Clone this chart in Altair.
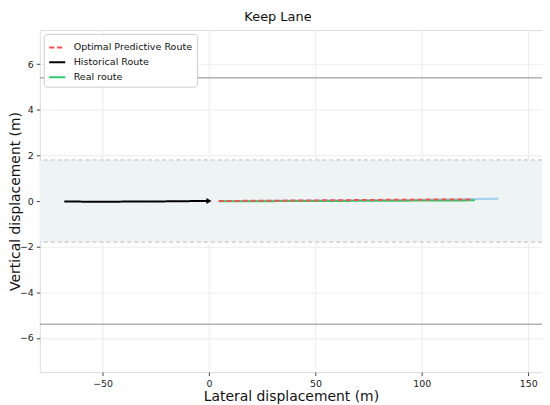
import altair as alt
import pandas as pd

# ---- data ----
hist_x = [-68, -55, -45, -35, -25, -15, -5, 0]
hist_y = [-0.02, -0.03, -0.03, -0.02, -0.02, -0.01, 0.0, 0.0]

pred_x = [4.6, 20, 40, 60, 80, 100, 115, 124]
pred_y = [0.0, 0.01, 0.02, 0.035, 0.05, 0.06, 0.07, 0.07]

real_x = [4.6, 20, 40, 60, 80, 100, 115, 125]
real_y = [-0.01, -0.01, 0.0, 0.005, 0.01, 0.02, 0.025, 0.03]

cand_x = [4.6, 30, 60, 90, 110, 125, 136]
cand_y = [0.0, 0.01, 0.03, 0.05, 0.07, 0.09, 0.1]

lane_dash = [1.8, -1.8]
lane_solid = [5.4, -5.4]

series_names = ["Optimal Predictive Route", "Historical Route", "Real route"]
series_colors = ["#ff4d4d", "#000000", "#2ecc71"]

FONT = "DejaVu Sans"
xdom = [-79.5, 156.5]
ydom = [-7.5, 7.5]
W, H = 505, 344

def frame(xs, ys, name):
    return pd.DataFrame({"x": xs, "y": ys, "series": name})

hist = frame(hist_x, hist_y, "Historical Route")
pred = frame(pred_x, pred_y, "Optimal Predictive Route")
real = frame(real_x, real_y, "Real route")
cand = frame(cand_x, cand_y, "cand")

X = alt.X("x:Q", scale=alt.Scale(domain=xdom, nice=False, zero=False),
          axis=alt.Axis(title="Lateral displacement (m)", values=[-50, 0, 50, 100, 150],
                        grid=True, gridColor="#ececec", gridOpacity=1,
                        tickColor="#444", tickSize=3.5, labelFontSize=9.5, titleFontSize=14,
                        labelFont=FONT, titleFont=FONT, titleFontWeight="normal",
                        labelPadding=3,
                        domain=False, labelColor="#222", titleColor="#111", titlePadding=2))
Y = alt.Y("y:Q", scale=alt.Scale(domain=ydom, nice=False, zero=False),
          axis=alt.Axis(title="Vertical displacement (m)", values=[-6, -4, -2, 0, 2, 4, 6],
                        grid=True, gridColor="#ececec", gridOpacity=1,
                        tickColor="#444", tickSize=3.5, labelFontSize=9.5, titleFontSize=14,
                        labelFont=FONT, titleFont=FONT, titleFontWeight="normal",
                        labelPadding=3, titleX=-17, titleY=H / 2,
                        domain=False, labelColor="#222", titleColor="#111"))

band = alt.Chart(pd.DataFrame({"y": [-1.8], "y2": [1.8]})).mark_rect(
    color="#eef3f4").encode(x=alt.value(0), x2=alt.value(W), y=Y, y2="y2:Q")

dash_lines = alt.Chart(pd.DataFrame({"y": lane_dash})).mark_rule(
    color="#bbbbbb", strokeDash=[4, 3], strokeWidth=1).encode(y=Y)
solid_lines = alt.Chart(pd.DataFrame({"y": lane_solid})).mark_rule(
    color="#888888", strokeWidth=1).encode(y=Y)

color_scale = alt.Scale(domain=series_names, range=series_colors)
dash_scale = alt.Scale(domain=series_names, range=[[5, 3], [1, 0], [1, 0]])
legend = alt.Legend(title=None, orient="top-left", symbolType="stroke", symbolStrokeWidth=2,
                    labelFont=FONT, labelFontSize=9.6, labelColor="#111",
                    fillColor="white", strokeColor="#cccccc", padding=4, offset=4,
                    symbolSize=260, rowPadding=0, cornerRadius=3, labelOffset=7)

cand_line = alt.Chart(cand).mark_line(color="#5dade2", strokeWidth=2, opacity=0.5).encode(
    x=X, y=Y)

routes = alt.Chart(pd.concat([hist, real, pred])).mark_line(strokeWidth=2).encode(
    x=X, y=Y,
    color=alt.Color("series:N", scale=color_scale, legend=legend),
    strokeDash=alt.StrokeDash("series:N", scale=dash_scale, legend=legend),
    order=alt.Order("x:Q"),
)

arrow = alt.Chart(pd.DataFrame({"x": [0], "y": [0.0]})).mark_point(
    shape="triangle-right", filled=True, color="black", size=35, opacity=1).encode(x=X, y=Y)

chart = alt.layer(band, dash_lines, solid_lines, cand_line, routes, arrow).properties(
    width=W, height=H,
    title=alt.Title("Keep Lane", font=FONT, fontSize=13, fontWeight="normal", color="#111",
                    anchor="middle", offset=6, dx=-13),
    autosize=alt.AutoSizeParams(type="none"),
    padding={"left": 32, "top": 21, "right": 0, "bottom": 31},
).configure_view(stroke="#888888", strokeWidth=1).configure(background="white")

chart.save("out.html", embed_options={"renderer": "svg", "actions": False})
